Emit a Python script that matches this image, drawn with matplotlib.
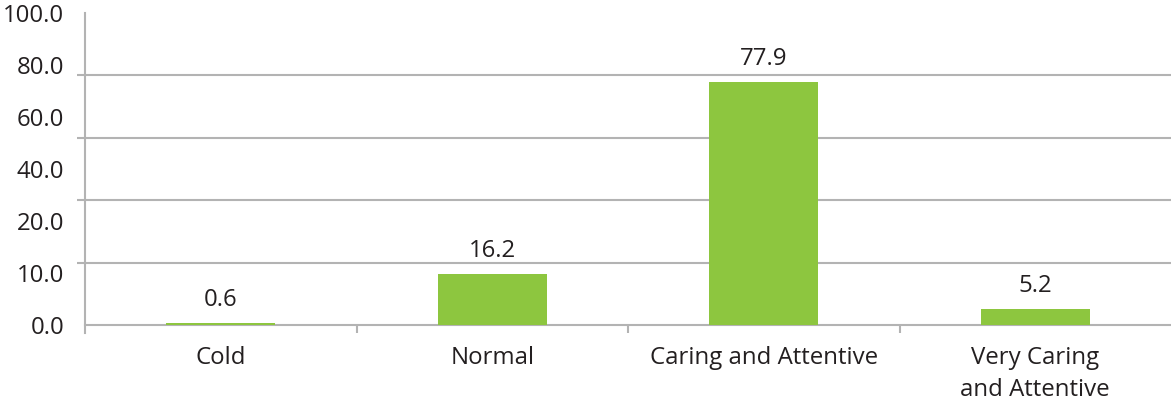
import numpy as np
import matplotlib.pyplot as plt
from matplotlib.ticker import FixedLocator

categories = ['Cold', 'Normal', 'Caring and Attentive', 'Very Caring\nand Attentive']
values = [0.6, 16.2, 77.9, 5.2]
ytick_labels = ['0.0', '10.0', '20.0', '40.0', '60.0', '80.0', '100.0']

green = '#8DC63F'
grey = '#B3B3B3'
txt = '#231F20'

plt.rcParams['font.family'] = ['Open Sans', 'DejaVu Sans']

fig = plt.figure(figsize=(11.71, 4.05), dpi=100)
ax = fig.add_axes([0.0726, 0.1975, 0.9274, 0.7705])

x = np.arange(len(categories))
bars = ax.bar(x, values, 0.4, color=green, zorder=3)
for b, v in zip(bars, values):
    ax.annotate('%.1f' % v, (b.get_x() + b.get_width() / 2, v),
                xytext=(0, 8), textcoords='offset points',
                ha='center', va='bottom', fontsize=17.3, color=txt)

ax.set_xlim(-0.5, len(categories) - 0.5)
ax.set_ylim(0, 100)

# labels spread evenly, gridlines every 20
ax.set_yticks(np.linspace(0, 100, len(ytick_labels)))
ax.set_yticklabels(ytick_labels)
ax.yaxis.set_minor_locator(FixedLocator(np.arange(0, 101, 20)))
ax.grid(axis='y', which='minor', color=grey, lw=1.5, zorder=0)
ax.tick_params(axis='y', which='major', length=0, pad=15, labelsize=17.3, labelcolor=txt)
ax.tick_params(axis='y', which='minor', length=6, width=1.5, color=grey)

ax.set_xticks(x)
ax.set_xticklabels(categories, linespacing=1.45)
ax.xaxis.set_minor_locator(FixedLocator(x[:-1] + 0.5))
ax.tick_params(axis='x', which='major', length=0, pad=15, labelsize=17.3, labelcolor=txt)
ax.tick_params(axis='x', which='minor', length=6, width=1.5, color=grey)
for lab in ax.get_xticklabels():
    lab.set_verticalalignment('top')

for s in ['top', 'right']:
    ax.spines[s].set_visible(False)
ax.spines['left'].set_color(grey)
ax.spines['left'].set_linewidth(1.5)
ax.spines['left'].set_bounds(-2.5, 100)
ax.spines['bottom'].set_color(grey)
ax.spines['bottom'].set_linewidth(1.5)

fig.savefig('out.png', dpi=100)
